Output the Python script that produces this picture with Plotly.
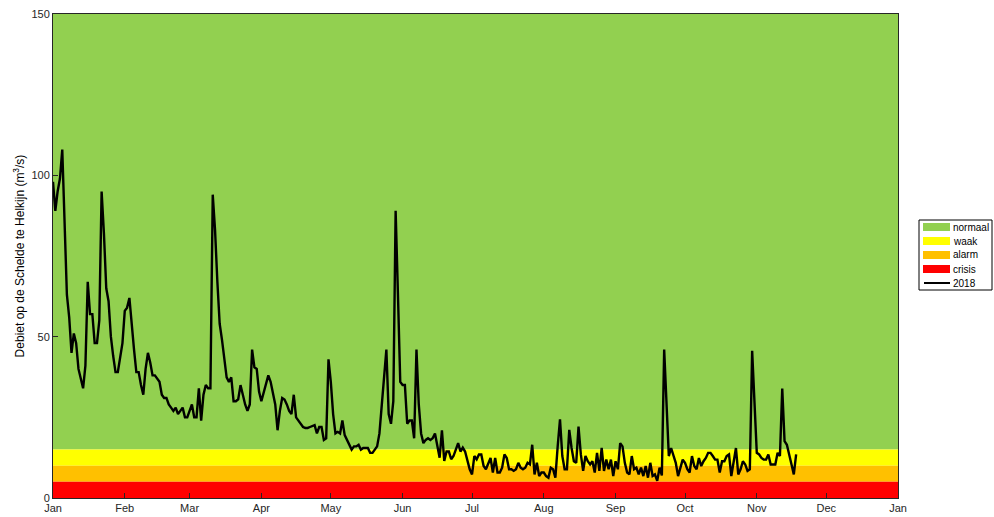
import plotly.graph_objects as go
import pandas as pd

# Daily discharge 2018 (m3/s), starting 1 Jan 2018
flow_2018 = [
    98, 89, 95, 99, 108, 85, 63, 56, 45, 51, 48, 40, 37, 34, 41, 67, 57, 57, 48, 48,
    55, 95, 82, 65, 61, 50, 44, 39, 39, 43, 48, 58, 59, 62, 53, 46, 39, 39, 35, 32,
    40, 45, 42, 38, 38, 37, 36, 32, 31, 31, 29, 28, 27, 28, 26, 27, 28, 25, 25, 27,
    29, 25, 25, 34, 24, 32, 35, 34, 34, 94, 83, 67, 54, 49, 42.5, 37.4, 36, 37.4, 30, 30,
    30.6, 35, 32, 29, 27, 29, 46, 40.5, 40, 33, 30, 32.6, 35.3, 38, 36, 32, 29, 21, 27, 31,
    30.5, 29, 27, 26, 32, 25, 24, 23, 22, 21.7, 21.7, 22, 22.2, 22.6, 20, 22, 22, 18, 18.5, 43,
    36, 26, 20, 20.5, 20, 24, 19.5, 18, 17, 15, 16, 16, 16.5, 15, 15.5, 15.5, 15.5, 14, 14, 15, 16,
    20, 28, 37, 46, 26, 23, 30, 89, 63, 36, 35, 35, 23, 24, 24, 18.5, 46, 29, 20, 17,
    18, 18.5, 18, 18.5, 20, 16, 12.5, 21, 11.5, 14.4, 14.4, 12, 13, 15, 17, 14.4, 15.6, 14.4, 11.5, 8.9,
    7.3, 13, 12, 13.5, 13.5, 9.9, 8.9, 10.9, 12.4, 7.9, 12.4, 7.9, 7.9, 9.4, 13.5, 12.4, 8.9, 8.9, 8.4, 8.9,
    10.9, 9.4, 8.9, 9.4, 10.9, 10.4, 16.5, 7.3, 10.9, 6.8, 7.9, 7.9, 6.8, 6.3, 9.4, 8.9, 6.3, 16, 24.4, 13,
    8.9, 8.9, 21.1, 15.5, 11.4, 10.9, 22.1, 13.5, 8.4, 13, 11.4, 10.4, 11.4, 7.9, 14, 8.4, 15.5, 8.4, 11.9, 8.9,
    11.9, 6.8, 11.4, 8.9, 17, 16, 10.9, 7.9, 7.3, 13, 8.9, 9.4, 7.3, 9.4, 6.8, 9.9, 6.3, 10.9, 6.8, 7.3,
    5.3, 9.4, 7, 46, 31.3, 13, 15.5, 13, 10.9, 6.8, 9.4, 11.9, 10.9, 8.9, 7.9, 13, 9.9, 8.9, 12.4, 9.9,
    11.4, 12.4, 14, 14, 13, 11.9, 11.9, 7.9, 11.4, 11.4, 13, 13.5, 6.8, 10.9, 15.5, 7.3, 8.9, 11.4, 10.4, 8.4, 8.9,
    45.6, 31.3, 14, 13.5, 12.4, 11.9, 11.9, 13.5, 10.4, 10.4, 10.4, 14, 13, 33.9, 17.6, 16.5, 13, 10.4, 7.3, 13.5,
]
dates_2018 = pd.date_range("2018-01-01", periods=len(flow_2018), freq="D")

# Threshold bands (m3/s)
band_names = ["normaal", "waak", "alarm", "crisis"]
band_low = [15, 10, 5, 0]
band_high = [150, 15, 10, 5]
band_colors = ["#92D050", "#FFFF00", "#FFC000", "#FF0000"]
series_name = "2018"

x_start, x_end = "2018-01-01", "2019-01-01"

fig = go.Figure()
for name, lo, hi, col in zip(band_names, band_low, band_high, band_colors):
    fig.add_trace(go.Scatter(
        x=[x_start, x_end, x_end, x_start, x_start],
        y=[lo, lo, hi, hi, lo],
        fill="toself", fillcolor=col, mode="lines",
        line=dict(width=0, color=col), name=name, hoverinfo="skip",
    ))

fig.add_trace(go.Scatter(
    x=dates_2018, y=flow_2018, mode="lines",
    line=dict(color="black", width=2.4), name=series_name,
))

# ---- compact legend (MATLAB style) built in paper coordinates ----
W, H = 994, 517
ML, MR, MT, MB = 53, 96, 14, 19
pw, ph = W - ML - MR, H - MT - MB


def px_x(p):
    return (p - ML) / pw


def px_y(p):
    return (H - MB - p) / ph


shapes = [dict(type="rect", xref="paper", yref="paper",
               x0=px_x(919), x1=px_x(992), y0=px_y(290), y1=px_y(220),
               fillcolor="white", line=dict(color="black", width=1), layer="above")]
annotations = []
row_y = [227, 241, 255, 269, 283]
labels = band_names + [series_name]
for i, (lab, ry) in enumerate(zip(labels, row_y)):
    if i < len(band_colors):
        shapes.append(dict(type="rect", xref="paper", yref="paper",
                           x0=px_x(923), x1=px_x(950), y0=px_y(ry + 4), y1=px_y(ry - 4),
                           fillcolor=band_colors[i], line=dict(width=0), layer="above"))
    else:
        shapes.append(dict(type="line", xref="paper", yref="paper",
                           x0=px_x(924), x1=px_x(950), y0=px_y(ry), y1=px_y(ry),
                           line=dict(color="black", width=2), layer="above"))
    annotations.append(dict(xref="paper", yref="paper", x=px_x(951), y=px_y(ry),
                            xanchor="left", yanchor="middle", align="left",
                            text=lab, showarrow=False,
                            font=dict(size=10, color="black")))

axis_col = "#262626"
fig.update_layout(
    width=W, height=H,
    margin=dict(l=ML, r=MR, t=MT, b=MB, autoexpand=False),
    paper_bgcolor="white", plot_bgcolor="white",
    font=dict(family="Liberation Sans, Arial, sans-serif", size=11, color=axis_col),
    showlegend=False,
    shapes=shapes, annotations=annotations,
    xaxis=dict(
        type="date", range=[x_start, x_end], automargin=False,
        tick0="2018-01-01", dtick="M1", tickformat="%b",
        ticks="inside", ticklen=5, tickcolor=axis_col,
        showline=True, linecolor=axis_col, linewidth=1, mirror=True,
        showgrid=False, zeroline=False,
        tickfont=dict(size=11, color=axis_col),
    ),
    yaxis=dict(
        range=[0, 150], tickvals=[0, 50, 100, 150], automargin=False,
        ticks="inside", ticklen=5, tickcolor=axis_col,
        showline=True, linecolor=axis_col, linewidth=1, mirror=True,
        showgrid=False, zeroline=False,
        title=dict(text="Debiet op de Schelde te Helkijn (m<sup>3</sup>/s)",
                   font=dict(size=12, color="black"), standoff=4),
        tickfont=dict(size=11, color=axis_col),
    ),
)

fig.write_html("out.html")
